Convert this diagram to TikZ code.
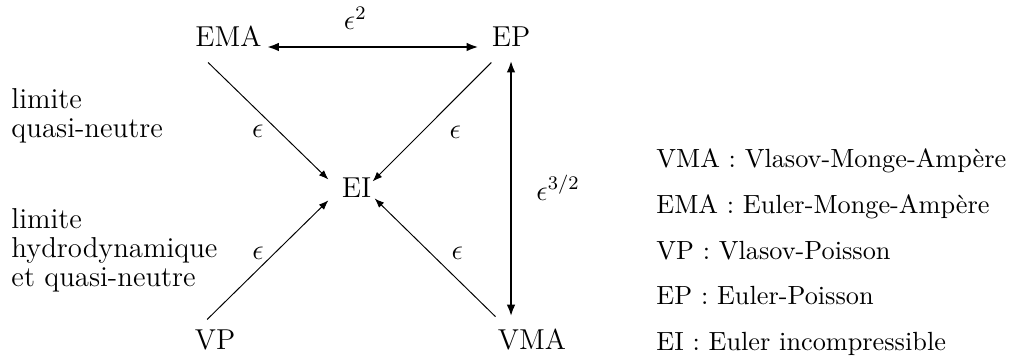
\documentclass[tikz,border=0pt]{standalone}
\usetikzlibrary{arrows.meta}

\begin{document}
\begin{tikzpicture}[
                >={Latex[length=4pt,width=3pt]},
                model/.style={font=\large, inner sep=2pt, anchor=base},
                limarrow/.style={->, line width=0.4pt},
                bigarrow/.style={{Latex[length=5pt,width=3.6pt]}-{Latex[length=5pt,width=3.6pt]}, line width=1.2pt},
                order/.style={font=\large, inner sep=2pt},
                remark/.style={font={\large\baselineskip=12pt}, align=left, anchor=north west, inner sep=0pt},
                legend/.style={font={\fontsize{10.95}{19}\selectfont}, align=left, anchor=north west, inner sep=0pt},
                ]

                \useasboundingbox (0,0) rectangle (14.806,5.228);

                % ── Models ──
                \node[model] (EMA) at (3.346,4.540) {EMA};
                \node[model] (EP)  at (7.484,4.540) {EP};
                \node[model] (EI)  at (5.221,2.329) {EI};
                \node[model] (VP)  at (3.149,0.117) {VP};
                \node[model] (VMA) at (7.791,0.117) {VMA};

                % ── Limits ──
                \draw[bigarrow, shorten >=3.3pt] (EMA.base east) -- (EP.base west)
                    node[order, pos=0.403, above=4.6pt] {$\epsilon^2$};
                \draw[bigarrow, shorten <=3.4pt, shorten >=2.7pt] (EP.south) -- (EP.south |- VMA.north)
                    node[order, midway, right=8pt] {$\epsilon^{3/2}$};

                \draw[limarrow] ([shift={(-8.5pt,-4.25pt)}]EMA.south) -- ([shift={(-3.4pt,-2.7pt)}]EI.north west)
                    node[order, pos=0.585, left=4pt] {$\epsilon$};
                \draw[limarrow] ([shift={(2pt,-4.25pt)}]EP.south west) -- ([shift={(-1.6pt,-3.5pt)}]EI.north east)
                    node[order, pos=0.583, right=9.2pt] {$\epsilon$};
                \draw[limarrow] ([shift={(-3.3pt,1.9pt)}]VP.north) -- ([shift={(-3.4pt,1.2pt)}]EI.south west)
                    node[order, pos=0.558, left=2.4pt] {$\epsilon$};
                \draw[limarrow] ([shift={(1.2pt,2.7pt)}]VMA.north west) -- ([shift={(-0.75pt,2pt)}]EI.south east)
                    node[order, pos=0.533, right=6.3pt] {$\epsilon$};

                % ── Side notes ──
                \node[remark] (qn) at (0.161,3.940) {limite\\quasi-neutre};
                \node[remark] (hqn) at (0.161,2.182) {limite\\hydrodynamique\\et quasi-neutre};

                \node[legend] (names) at (9.607,3.051) {VMA : Vlasov-Monge-Ampère\\EMA : Euler-Monge-Ampère\\VP : Vlasov-Poisson\\EP : Euler-Poisson\\EI : Euler incompressible};

\end{tikzpicture}
\end{document}
